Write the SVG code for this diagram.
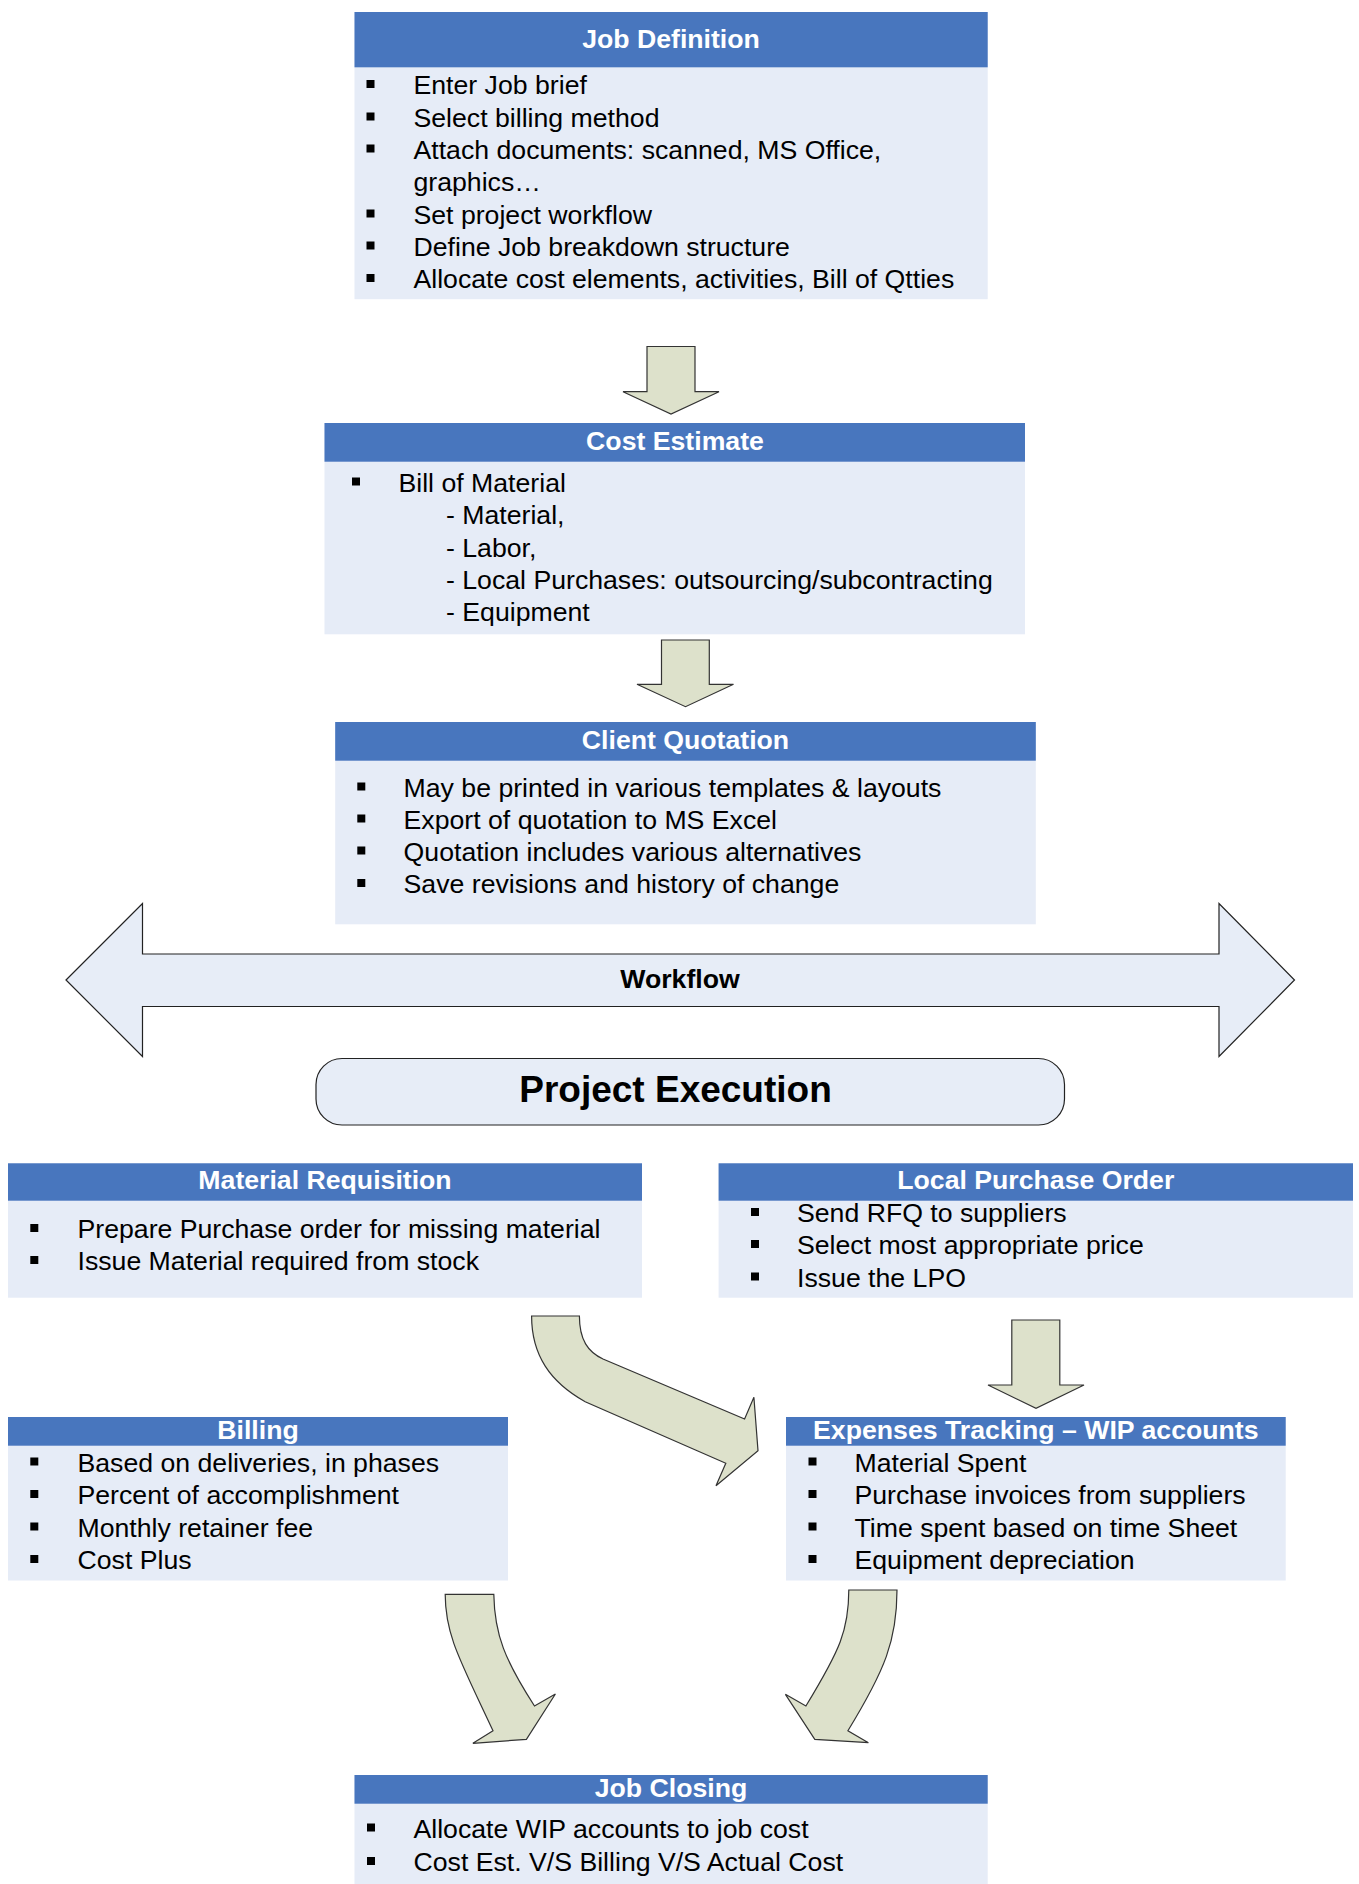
<svg xmlns="http://www.w3.org/2000/svg" width="1359" height="1884" viewBox="0 0 1359 1884">
<style>
.hd{fill:#4876BE}
.bd{fill:#E6ECF7}
.tt{font-family:"Liberation Sans",Arial,sans-serif;font-size:26.67px;font-weight:bold;fill:#FFFFFF;text-anchor:middle}
.tx{font-family:"Liberation Sans",Arial,sans-serif;font-size:26.67px;fill:#000000}
.bl{fill:#000000}
.ar{fill:#DDE1CB;stroke:#333333;stroke-width:1.2;stroke-linejoin:miter}
.wf{fill:#E7EDF7;stroke:#222222;stroke-width:1.2}
</style>
<rect width="1359" height="1884" fill="#FFFFFF"/>

<g id="connectors">
<polygon class="ar" points="647,346.5 695,346.5 695,391.7 719,391.7 671,414 623,391.7 647,391.7"/>
<polygon class="ar" points="661.5,640 709.3,640 709.3,684.3 733.5,684.3 685.5,706.7 637,684.3 661.5,684.3"/>
<polygon class="ar" points="1011.8,1320 1059.8,1320 1059.8,1385 1084,1385 1036,1408.3 988,1385 1011.8,1385"/>
<path class="ar" d="M531.6,1316 L579.4,1316 C579.4,1340 588,1352 603,1359 L744.6,1419 L753.9,1397.3 L758,1450.7 L716,1485.7 L725.8,1463.3 L585.2,1401.7 C550,1382 531.6,1355 531.6,1316 Z"/>
<path class="ar" d="M445.2,1594.3 L493.8,1594.3 C494.5,1635 505,1660 534.5,1706 L555.4,1694 L526.4,1739.3 L472.9,1743.3 L493,1730.7 C460,1660 445.2,1635 445.2,1594.3 Z"/>
<path class="ar" d="M848.8,1590 L897,1590 C897,1640 885,1670 847.9,1730.7 L868.4,1742.7 L814.8,1739.3 L785.4,1694.3 L805.9,1706 C840,1650 848.8,1630 848.8,1590 Z"/>
</g>

<g id="workflow">
<polygon class="wf" points="66,980 142.5,903.5 142.5,954 1219,954 1219,903.5 1294.5,980 1219,1056.5 1219,1006.5 142.5,1006.5 142.5,1056.5"/>
<text x="680" y="987.5" font-family="Liberation Sans, Arial, sans-serif" font-size="26.67" font-weight="bold" text-anchor="middle" fill="#000">Workflow</text>
</g>

<g id="project-execution">
<rect x="316" y="1058.5" width="748.5" height="66.5" rx="26" ry="26" class="wf"/>
<text x="675.5" y="1101.5" font-family="Liberation Sans, Arial, sans-serif" font-size="37" font-weight="bold" text-anchor="middle" fill="#000">Project Execution</text>
</g>

<g id="job-definition">
<rect class="bd" x="354.5" y="12" width="633.2" height="287.2"/>
<rect class="hd" x="354.5" y="12" width="633.2" height="55.3"/>
<text class="tt" x="671" y="48">Job Definition</text>
<rect class="bl" x="366.5" y="80" width="8" height="8"/>
<rect class="bl" x="366.5" y="112.5" width="8" height="8"/>
<rect class="bl" x="366.5" y="144.5" width="8" height="8"/>
<rect class="bl" x="366.5" y="209.5" width="8" height="8"/>
<rect class="bl" x="366.5" y="241.5" width="8" height="8"/>
<rect class="bl" x="366.5" y="274" width="8" height="8"/>
<text class="tx" x="413.5" y="94">Enter Job brief</text>
<text class="tx" x="413.5" y="126.5">Select billing method</text>
<text class="tx" x="413.5" y="158.5">Attach documents: scanned, MS Office,</text>
<text class="tx" x="413.5" y="191">graphics…</text>
<text class="tx" x="413.5" y="223.5">Set project workflow</text>
<text class="tx" x="413.5" y="255.5">Define Job breakdown structure</text>
<text class="tx" x="413.5" y="288">Allocate cost elements, activities, Bill of Qtties</text>
</g>

<g id="cost-estimate">
<rect class="bd" x="324.5" y="423" width="700.5" height="211.3"/>
<rect class="hd" x="324.5" y="423" width="700.5" height="38.7"/>
<text class="tt" x="675" y="450">Cost Estimate</text>
<rect class="bl" x="352" y="477.5" width="8" height="8"/>
<text class="tx" x="398.5" y="491.7">Bill of Material</text>
<text class="tx" x="446" y="524.3">- Material,</text>
<text class="tx" x="446" y="556.7">- Labor,</text>
<text class="tx" x="446" y="588.5">- Local Purchases: outsourcing/subcontracting</text>
<text class="tx" x="446" y="620.7">- Equipment</text>
</g>

<g id="client-quotation">
<rect class="bd" x="335.2" y="722" width="700.6" height="202.3"/>
<rect class="hd" x="335.2" y="722" width="700.6" height="38.7"/>
<text class="tt" x="685.5" y="749">Client Quotation</text>
<rect class="bl" x="357.3" y="782.5" width="8" height="8"/>
<rect class="bl" x="357.3" y="814.5" width="8" height="8"/>
<rect class="bl" x="357.3" y="846.5" width="8" height="8"/>
<rect class="bl" x="357.3" y="879" width="8" height="8"/>
<text class="tx" x="403.6" y="796.7">May be printed in various templates &amp; layouts</text>
<text class="tx" x="403.6" y="828.7">Export of quotation to MS Excel</text>
<text class="tx" x="403.6" y="860.7">Quotation includes various alternatives</text>
<text class="tx" x="403.6" y="893.3">Save revisions and history of change</text>
</g>

<g id="material-requisition">
<rect class="bd" x="8" y="1163.3" width="634" height="134.4"/>
<rect class="hd" x="8" y="1163.3" width="634" height="37.4"/>
<text class="tt" x="325" y="1189.3">Material Requisition</text>
<rect class="bl" x="30.3" y="1224" width="8" height="8"/>
<rect class="bl" x="30.3" y="1256" width="8" height="8"/>
<text class="tx" x="77.5" y="1238.3">Prepare Purchase order for missing material</text>
<text class="tx" x="77.5" y="1270">Issue Material required from stock</text>
</g>

<g id="local-purchase-order">
<rect class="bd" x="718.6" y="1163.3" width="634.4" height="134.4"/>
<rect class="hd" x="718.6" y="1163.3" width="634.4" height="37.4"/>
<text class="tt" x="1035.8" y="1189.3">Local Purchase Order</text>
<rect class="bl" x="751" y="1208" width="8" height="8"/>
<rect class="bl" x="751" y="1240" width="8" height="8"/>
<rect class="bl" x="751" y="1272.5" width="8" height="8"/>
<text class="tx" x="797" y="1222.3">Send RFQ to suppliers</text>
<text class="tx" x="797" y="1254.3">Select most appropriate price</text>
<text class="tx" x="797" y="1286.7">Issue the LPO</text>
</g>

<g id="billing">
<rect class="bd" x="8" y="1417" width="500" height="163.5"/>
<rect class="hd" x="8" y="1417" width="500" height="28.7"/>
<text class="tt" x="258" y="1439.3">Billing</text>
<rect class="bl" x="30.3" y="1457.5" width="8" height="8"/>
<rect class="bl" x="30.3" y="1490" width="8" height="8"/>
<rect class="bl" x="30.3" y="1522.5" width="8" height="8"/>
<rect class="bl" x="30.3" y="1555" width="8" height="8"/>
<text class="tx" x="77.5" y="1471.7">Based on deliveries, in phases</text>
<text class="tx" x="77.5" y="1504">Percent of accomplishment</text>
<text class="tx" x="77.5" y="1536.5">Monthly retainer fee</text>
<text class="tx" x="77.5" y="1569">Cost Plus</text>
</g>

<g id="expenses-tracking">
<rect class="bd" x="786" y="1417" width="499.7" height="163.5"/>
<rect class="hd" x="786" y="1417" width="499.7" height="28.7"/>
<text class="tt" x="1035.8" y="1438.7">Expenses Tracking – WIP accounts</text>
<rect class="bl" x="808.5" y="1457.5" width="8" height="8"/>
<rect class="bl" x="808.5" y="1490" width="8" height="8"/>
<rect class="bl" x="808.5" y="1522.5" width="8" height="8"/>
<rect class="bl" x="808.5" y="1555" width="8" height="8"/>
<text class="tx" x="854.5" y="1471.7">Material Spent</text>
<text class="tx" x="854.5" y="1504">Purchase invoices from suppliers</text>
<text class="tx" x="854.5" y="1536.8">Time spent based on time Sheet</text>
<text class="tx" x="854.5" y="1568.7">Equipment depreciation</text>
</g>

<g id="job-closing">
<rect class="bd" x="354.5" y="1775" width="633.2" height="109"/>
<rect class="hd" x="354.5" y="1775" width="633.2" height="28.7"/>
<text class="tt" x="671" y="1797.3">Job Closing</text>
<rect class="bl" x="367" y="1823.5" width="8" height="8"/>
<rect class="bl" x="367" y="1857" width="8" height="8"/>
<text class="tx" x="413.5" y="1837.7">Allocate WIP accounts to job cost</text>
<text class="tx" x="413.5" y="1871">Cost Est. V/S Billing V/S Actual Cost</text>
</g>
</svg>
